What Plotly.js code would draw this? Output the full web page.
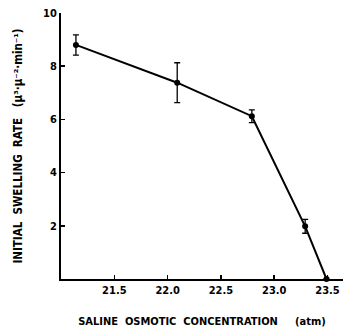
<!DOCTYPE html>
<html><head><meta charset="utf-8">
<script src="https://cdn.plot.ly/plotly-3.0.1.min.js"></script>
<style>html,body{margin:0;padding:0;background:#fff;}#chart{width:344px;height:335px;}</style>
</head><body><div id="chart"></div>
<script>
const concentration = [21.14, 22.09, 22.79, 23.29, 23.49];
const swellingRate = [8.8, 7.38, 6.12, 1.98, 0];
const errorValues = [0.38, 0.75, 0.24, 0.26, 0];
const xTickValues = [21.5, 22.0, 22.5, 23.0, 23.5];
const xTickLabels = ['21.5', '22.0', '22.5', '23.0', '23.5'];
const yTickValues = [2, 4, 6, 8, 10];
const yTickLabels = ['2', '4', '6', '8', '10'];

const FONT = '"DejaVu Sans Condensed", "Liberation Sans Narrow", sans-serif';

const trace = {
  x: concentration, y: swellingRate, type: 'scatter', mode: 'lines+markers',
  line: {color: '#000', width: 2},
  marker: {color: '#000', size: 6},
  error_y: {type: 'data', array: errorValues, visible: true, color: '#000', thickness: 1.3, width: 3},
  cliponaxis: false, hoverinfo: 'none'
};

const layout = {
  width: 344, height: 335,
  margin: {l: 61, r: 1, t: 13, b: 56},
  paper_bgcolor: '#fff', plot_bgcolor: '#fff',
  showlegend: false,
  font: {family: FONT, color: '#000', size: 11, weight: 'bold'},
  xaxis: {
    range: [21.0, 23.645], showgrid: false, zeroline: false,
    showline: true, linecolor: '#000', linewidth: 2,
    ticks: 'inside', ticklen: 4, tickwidth: 1.5, tickcolor: '#000',
    tickvals: xTickValues, ticktext: xTickLabels,
    tickfont: {family: FONT, size: 11, weight: 'bold'},
    title: {text: 'SALINE  OSMOTIC  CONCENTRATION     (atm)', standoff: 21,
            font: {family: FONT, size: 11, weight: 'bold'}},
    automargin: false
  },
  yaxis: {
    range: [0, 10], showgrid: false, zeroline: false,
    showline: true, linecolor: '#000', linewidth: 2,
    ticks: 'inside', ticklen: 4, tickwidth: 1.5, tickcolor: '#000',
    tickvals: yTickValues, ticktext: yTickLabels,
    tickfont: {family: FONT, size: 11, weight: 'bold'},
    title: {text: 'INITIAL  SWELLING  RATE   (μ³·μ⁻²·min⁻¹)', standoff: 18,
            font: {family: FONT, size: 11.5, weight: 'bold'}},
    automargin: false
  }
};

Plotly.newPlot('chart', [trace], layout, {staticPlot: true, displayModeBar: false});
</script>
</body></html>
